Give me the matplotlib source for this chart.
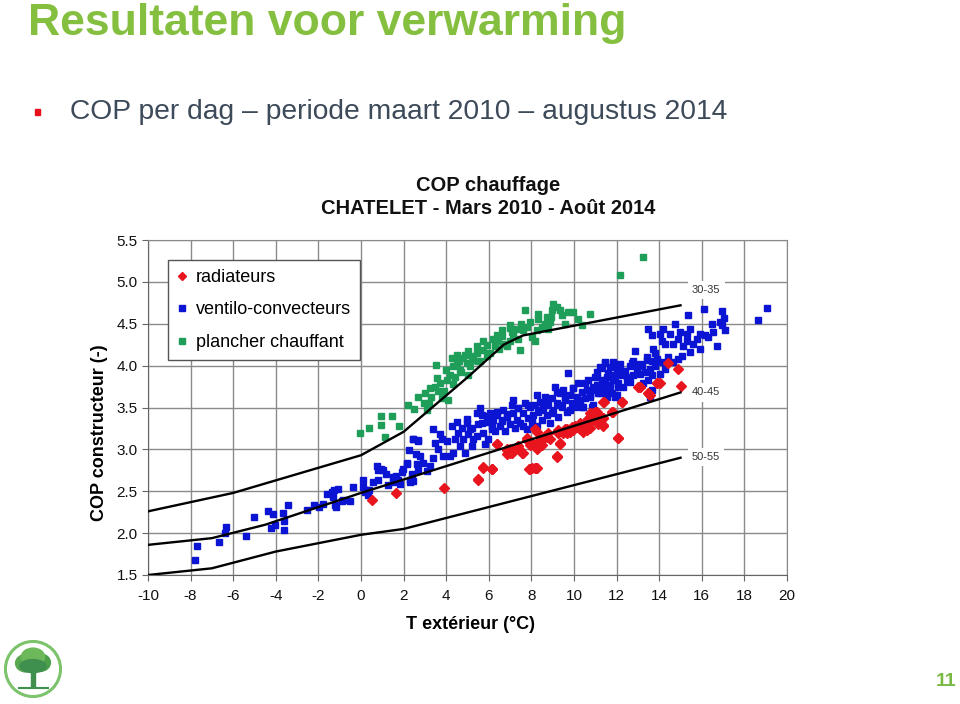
"""COP chauffage CHATELET - recreated slide chart"""

import matplotlib

matplotlib.use("Agg")
from matplotlib import pyplot as plt
from matplotlib.patches import Circle, Ellipse, Rectangle

plt.rcParams["font.family"] = ["Liberation Sans", "DejaVu Sans"]
plt.rcParams["axes.unicode_minus"] = False

# --- data ----------------------------------------------------------------
green_x = [-0.05, 0.37, 0.92, 0.92, 1.47, 1.12, 1.78, 2.22, 2.69, 2.95, 3.08, 3.00,
           3.24, 3.58, 3.52, 3.47, 3.71, 4.02, 4.10, 3.78, 4.17, 4.33, 4.25, 4.49,
           4.64, 4.49, 4.80, 4.96, 5.11, 5.04, 4.88, 5.27, 5.43, 5.43, 5.74, 5.74,
           5.90, 6.05, 6.29, 6.44, 6.60, 6.37, 6.68, 6.84, 6.99, 6.99, 7.15, 7.30,
           7.46, 7.38, 7.62, 7.70, 7.77, 7.93, 8.01, 8.17, 8.24, 8.32, 8.48, 8.63,
           8.71, 8.79, 8.87, 8.95, 9.03, 9.18, 9.34, 9.42, 9.57, 9.73, 9.97, 10.20,
           10.36, 10.75, 12.16, 13.24, 2.50, 3.30, 3.90, 4.40, 4.60, 5.20, 5.60,
           6.20, 6.50, 7.10, 3.20, 3.60, 4.00, 4.30, 4.70, 5.00, 5.50, 5.90, 6.60,
           7.00, 7.50, 8.30, 8.90]
green_y = [3.20, 3.25, 3.40, 3.29, 3.40, 3.15, 3.28, 3.53, 3.63, 3.55, 3.47, 3.67,
           3.73, 3.85, 4.01, 3.75, 3.79, 3.83, 3.59, 3.61, 3.89, 3.99, 4.09, 4.03,
           3.95, 4.13, 4.09, 4.03, 3.99, 3.89, 4.13, 4.07, 4.23, 4.15, 4.19, 4.29,
           4.11, 4.15, 4.23, 4.30, 4.42, 4.36, 4.26, 4.23, 4.30, 4.48, 4.36, 4.44,
           4.19, 4.32, 4.42, 4.66, 4.46, 4.52, 4.34, 4.30, 4.42, 4.56, 4.46, 4.50,
           4.58, 4.44, 4.52, 4.66, 4.74, 4.70, 4.66, 4.60, 4.50, 4.64, 4.64, 4.56,
           4.48, 4.62, 5.08, 5.30, 3.48, 3.62, 3.70, 3.86, 4.05, 4.12, 4.05,
           4.32, 4.20, 4.40, 3.55, 3.70, 3.95, 3.78, 3.92, 4.18, 4.05, 4.25, 4.35,
           4.45, 4.50, 4.62, 4.58]

blue_x = [-7.80, -7.69, -6.65, -6.34, -6.39, -5.40, -5.03, -4.35, -4.15, -4.04, -4.23,
          -3.68, -3.60, -3.62, -3.43, -2.55, -2.21, -1.96, -1.80, -1.61, -1.38, -1.33,
          -1.27, -1.22, -1.07, -1.18, -0.91, -0.83, -0.52, -0.39, 0.08, 0.11, 0.26,
          0.19, 0.39, 0.34, 0.58, 0.73, 0.81, 0.92, 1.05, 1.17, 0.81, 1.28, 1.48,
          1.52, 1.64, 1.75, 1.83, 1.94, 2.17, 2.24, 2.30, 2.39, 2.58, 2.64, 2.69,
          2.66, 2.42,
          1.99, 2.30, 2.46, 2.14, 2.46, 2.69, 2.77, 2.93, 3.08, 3.24, 3.39, 3.39,
          3.47, 3.63, 3.71, 3.79, 3.86, 4.02, 4.18, 4.26, 4.33, 4.41, 4.49, 4.57,
          4.65, 4.73, 4.80, 4.88, 4.96, 5.04, 5.12, 5.19, 5.27, 5.43, 5.51, 5.59,
          5.66, 5.74, 5.82, 5.90, 5.98, 6.06, 6.13, 6.21, 6.29, 6.37, 6.52, 6.60,
          6.68, 6.76, 6.84, 6.99, 7.07, 7.15, 7.23, 7.31, 7.39, 7.46, 7.62, 7.70,
          7.78, 7.86, 7.93, 8.01, 8.09, 8.17, 8.25, 8.32, 8.40, 8.48, 8.56, 8.64,
          8.72, 8.79, 8.87, 8.95, 9.03, 9.11, 9.19, 9.26, 9.34, 9.42, 9.50, 9.58,
          9.65, 9.73, 9.81, 9.89, 9.97, 10.05, 10.12, 10.20, 10.28, 10.36, 10.44,
          10.52, 10.59, 10.67, 10.75, 10.83, 10.91, 11.06, 11.22, 11.30, 11.38,
          11.45, 11.53, 11.61, 11.69, 11.85, 11.92, 12.00, 12.08,
          16.12, 16.96, 17.06, 16.85, 16.93, 17.09, 16.54, 16.70, 16.46, 16.15,
          16.31, 15.91, 15.76, 15.91, 15.60, 15.44, 15.29, 15.37, 15.29, 15.44,
          15.13, 14.98, 14.90, 14.74, 14.66, 14.51, 14.27, 14.11, 14.19, 14.04,
          13.72, 13.65, 13.49, 12.86, 12.78, 13.10, 13.41, 13.65, 13.88, 14.11,
          14.27, 14.04, 13.80, 13.57, 13.33, 13.10, 12.94, 12.63, 12.39, 12.16,
          12.00, 11.85, 11.69, 11.45, 11.22, 11.06, 10.98, 11.30, 11.53, 11.69,
          11.92, 12.08, 12.24, 12.31, 12.47, 12.63, 12.78, 13.25, 13.49, 13.65,
          11.38, 11.14, 10.91, 11.53, 11.77, 15.05, 14.90, 14.66, 14.43, 18.65,
          19.04, 13.57,
          4.96, 5.20, 5.43, 5.67, 5.90, 6.14, 6.37, 6.61, 6.84, 7.15, 7.39, 7.62,
          7.86, 8.01, 8.25, 8.48, 8.72, 8.95, 9.19, 9.34, 9.58, 9.81, 9.97, 10.21,
          10.36, 10.52, 10.75, 10.91, 11.07, 11.22, 11.46, 11.61, 11.77, 11.93,
          12.08, 12.32, 12.47, 12.71, 12.94, 13.18, 13.41, 13.65, 13.80]
blue_y = [1.68, 1.85, 1.89, 2.07, 2.00, 1.97, 2.19, 2.26, 2.23, 2.10, 2.06,
          2.24, 2.14, 2.04, 2.34, 2.28, 2.33, 2.31, 2.35, 2.47, 2.49, 2.43,
          2.51, 2.33, 2.53, 2.31, 2.38, 2.39, 2.38, 2.55, 2.63, 2.55, 2.51,
          2.49, 2.51, 2.45, 2.61, 2.80, 2.75, 2.77, 2.75, 2.71, 2.63, 2.57, 2.67,
          2.61, 2.68, 2.63, 2.59, 2.73, 2.83, 2.99, 2.61, 2.71, 2.94, 2.83, 3.11,
          2.75, 3.12,
          2.76, 2.64, 2.62, 2.84, 3.12, 3.10, 2.92, 2.84, 2.74, 2.80, 3.24, 2.90,
          3.08, 3.00, 3.18, 3.12, 2.92, 3.10, 2.92, 3.28, 2.96, 3.12, 3.33, 3.20,
          3.04, 3.26, 3.12, 2.96, 3.31, 3.18, 3.24, 3.04, 3.12, 3.16, 3.30, 3.49,
          3.41, 3.20, 3.06, 3.33, 3.12, 3.43, 3.28, 3.35, 3.22, 3.41, 3.28, 3.35,
          3.47, 3.22, 3.39, 3.30, 3.53, 3.43, 3.26, 3.35, 3.49, 3.31, 3.43, 3.55,
          3.24, 3.37, 3.51, 3.31, 3.41, 3.53, 3.28, 3.45, 3.57, 3.35, 3.49, 3.63,
          3.41, 3.53, 3.31, 3.61, 3.47, 3.75, 3.55, 3.39, 3.67, 3.51, 3.71, 3.59,
          3.45, 3.91, 3.65, 3.55, 3.73, 3.51, 3.63, 3.79, 3.57, 3.69, 3.51,
          3.61, 3.71, 3.83, 3.63, 3.51, 3.75, 3.87, 3.67, 3.97, 3.79,
          4.03, 3.69, 3.91, 3.77, 3.83, 4.01, 3.65, 3.75,
          4.68, 4.65, 4.57, 4.52, 4.48, 4.42, 4.40, 4.24, 4.50, 4.36,
          4.34, 4.38, 4.32, 4.20, 4.26, 4.44, 4.38, 4.60, 4.30, 4.16,
          4.24, 4.40, 4.32, 4.50, 4.26, 4.38, 4.26, 4.30, 4.44, 4.38,
          4.20, 4.36, 4.44, 4.18, 4.06, 4.02, 4.10, 4.06, 4.08, 4.04,
          3.96, 3.90, 4.00, 3.96, 3.92, 3.90, 3.98, 4.00, 3.94, 4.02,
          3.92, 4.04, 3.98, 4.04, 3.98, 3.92, 3.87, 3.83, 3.87, 3.75,
          3.85, 3.79, 3.89, 3.75, 3.87, 3.81, 3.89, 3.79, 3.83, 3.71,
          3.71, 3.67, 3.71, 3.63, 3.67, 4.12, 4.08, 4.04, 4.10, 4.55,
          4.69, 3.63,
          3.36, 3.26, 3.43, 3.32, 3.40, 3.24, 3.45, 3.34, 3.42, 3.59, 3.49, 3.28,
          3.53, 3.38, 3.65, 3.47, 3.57, 3.43, 3.69, 3.53, 3.63, 3.47, 3.73, 3.59,
          3.51, 3.79, 3.65, 3.53, 3.77, 3.69, 3.83, 3.73, 3.89, 3.63,
          3.99, 3.93, 3.83, 4.03, 3.91, 3.99, 4.07, 3.89, 4.15]

red_x = [0.53, 1.64, 3.90, 5.48, 5.74, 6.14, 6.37, 6.87, 7.00, 7.07, 7.31, 7.59,
         7.78, 7.90, 8.22, 7.93, 8.09, 8.25, 8.40, 8.64, 8.80, 8.25, 8.48, 9.19,
         9.34, 9.26, 9.50, 9.66, 9.81, 9.97, 10.13, 10.28, 10.44, 10.60, 10.67,
         10.75, 10.83, 10.91, 11.06, 11.35, 11.38, 11.38, 11.77, 12.08, 12.24,
         13.02, 13.54, 13.88, 14.04, 15.01, 14.90, 14.43, 13.10, 13.57, 11.85,
         11.30, 5.51, 6.13, 6.84, 7.39, 8.01, 8.17, 8.72, 9.65, 9.89, 10.59,
         10.75, 11.41,
         5.75, 6.14, 6.37, 6.84, 7.00, 7.39, 7.55, 7.78, 8.01, 8.17, 8.41, 8.64,
         8.88, 9.19, 9.34, 9.27, 9.58, 9.81, 10.05, 10.28, 10.52, 10.67, 10.75,
         10.99, 11.14, 11.38, 11.38, 11.77, 12.08, 12.24, 13.10, 13.49, 13.88,
         8.25, 7.94]
red_y = [2.39, 2.48, 2.54, 2.64, 2.78, 2.76, 3.07, 2.95, 3.01, 2.96, 3.03, 2.96,
         3.11, 2.76, 2.78, 3.05, 3.07, 3.21, 3.11, 3.15, 3.19, 3.01, 3.05, 2.91,
         3.07, 3.23, 3.19, 3.20, 3.21, 3.23, 3.27, 3.31, 3.21, 3.23, 3.31,
         3.39, 3.35, 3.43, 3.45, 3.37, 3.29, 3.57, 3.45, 3.13, 3.57,
         3.75, 3.66, 3.79, 3.79, 3.76, 3.96, 4.03, 3.75, 3.65, 3.45,
         3.38, 2.65, 2.77, 2.99, 3.04, 2.78, 2.78, 3.15, 3.24, 3.27, 3.35,
         3.25, 3.57,
         2.79, 2.77, 3.06, 3.00, 2.96, 3.04, 2.96, 3.14, 3.08, 3.24, 3.06, 3.16,
         3.12, 2.92, 3.08, 3.20, 3.24, 3.22, 3.28, 3.24, 3.28, 3.36, 3.43,
         3.45, 3.30, 3.38, 3.28, 3.45, 3.14, 3.57, 3.75, 3.67, 3.79,
         2.78, 2.76]

# manufacturer reference curves (water temperature ranges)
ref_labels = ["30-35", "40-45", "50-55"]
ref_x = [
    [-10, -6, 0, 2, 5, 6.7, 7.6, 15],
    [-10, -7, -4.5, 0, 15],
    [-10, -7, -4, 0, 2, 15],
]
ref_y = [
    [2.26, 2.48, 2.93, 3.21, 3.86, 4.25, 4.36, 4.72],
    [1.86, 1.94, 2.10, 2.48, 3.68],
    [1.50, 1.58, 1.78, 1.98, 2.05, 2.90],
]
ref_label_y = [4.90, 3.68, 2.91]

x_ticks = list(range(-10, 21, 2))
y_ticks = [1.5, 2.0, 2.5, 3.0, 3.5, 4.0, 4.5, 5.0, 5.5]

GREEN_TITLE = "#85bf3f"


def draw_logo(fig):
    lax = fig.add_axes([4 / 960, 6 / 704, 58 / 960, 58 / 704])
    lax.set_xlim(-1, 1)
    lax.set_ylim(-1, 1)
    lax.set_aspect("equal")
    lax.axis("off")
    lax.add_patch(Circle((0, 0), 0.95, facecolor="white", edgecolor="#7cc36b", linewidth=2.2))
    lax.add_patch(Rectangle((-0.08, -0.62), 0.16, 0.55, color="#3f8f4f"))
    for cx, cy, w, h, c in [(-0.25, 0.2, 0.7, 0.6, "#5aa84f"), (0.25, 0.22, 0.7, 0.6, "#4c9e48"),
                            (0.0, 0.42, 0.8, 0.6, "#6db85a"), (0.0, 0.1, 0.9, 0.45, "#3f8f4f")]:
        lax.add_patch(Ellipse((cx, cy), w, h, color=c))
    lax.plot([-0.5, 0.5], [-0.65, -0.65], color="#3f8f4f", linewidth=1.5)


def main():
    fig = plt.figure(figsize=(9.6, 7.04), dpi=100)

    # slide text
    fig.text(28 / 960, 1 - 35 / 704, "Resultaten voor verwarming", fontsize=32,
             fontweight="bold", color=GREEN_TITLE, va="baseline", ha="left")
    fig.patches.append(Rectangle((35 / 960, 1 - 115 / 704), 5 / 960, 6 / 704,
                                 color="#e8101a", transform=fig.transFigure, figure=fig))
    fig.text(70 / 960, 1 - 119 / 704, "COP per dag \u2013 periode maart 2010 \u2013 augustus 2014",
             fontsize=20.3, color="#3d4a59", va="baseline", ha="left")
    fig.text(956 / 960, 1 - 686 / 704, "11", fontsize=14, fontweight="bold",
             color="#78b843", ha="right", va="baseline")

    # chart titles
    fig.text(488 / 960, 1 - 191 / 704, "COP chauffage", fontsize=14.5, fontweight="bold",
             ha="center", va="baseline", color="#111111")
    fig.text(488 / 960, 1 - 214 / 704, "CHATELET - Mars 2010 - Ao\u00fbt 2014", fontsize=14.5,
             fontweight="bold", ha="center", va="baseline", color="#111111")

    ax = fig.add_axes([148 / 960, 129 / 704, 639 / 960, 335 / 704])

    ax.plot(green_x, green_y, linestyle="none", marker="s", markersize=4.2,
            color="#1f9e5a", label="plancher chauffant", zorder=3)
    ax.plot(blue_x, blue_y, linestyle="none", marker="s", markersize=4.2,
            color="#0a14d2", label="ventilo-convecteurs", zorder=3)
    ax.plot(red_x, red_y, linestyle="none", marker="D", markersize=4.6,
            color="#e8141e", label="radiateurs", zorder=4)

    for xs, ys, lab, ly in zip(ref_x, ref_y, ref_labels, ref_label_y):
        ax.plot(xs, ys, color="black", linewidth=1.7, zorder=5)
        ax.text(16.2, ly, lab, fontsize=8, color="#333333", ha="center", va="center",
                bbox=dict(facecolor="white", edgecolor="none", pad=3), zorder=6)

    ax.set_xlim(-10, 20)
    ax.set_ylim(1.5, 5.5)
    ax.set_xticks(x_ticks)
    ax.set_yticks(y_ticks)
    ax.set_yticklabels([f"{v:.1f}" for v in y_ticks])
    ax.tick_params(labelsize=11, length=4, color="#666666", labelcolor="#111111")
    ax.tick_params(axis="x", pad=6)
    ax.grid(True, color="#8a8a8a", linewidth=1.0)
    ax.set_axisbelow(True)
    for side in ["top", "right"]:
        ax.spines[side].set_color("#8a8a8a")
    for side in ["left", "bottom"]:
        ax.spines[side].set_color("#666666")

    handles, labels = ax.get_legend_handles_labels()
    order = [2, 1, 0]
    leg = ax.legend([handles[i] for i in order], [labels[i] for i in order],
                    loc="upper left", bbox_to_anchor=(0.031, 0.94), borderaxespad=0,
                    fontsize=13, frameon=True, fancybox=False, edgecolor="#555555",
                    framealpha=1, handlelength=0.6, handletextpad=0.45, labelspacing=0.85,
                    borderpad=0.5, markerscale=0.9)
    leg.get_frame().set_linewidth(1.0)
    leg.set_zorder(7)

    fig.text(470 / 960, 1 - 629 / 704, "T ext\u00e9rieur (\u00b0C)", fontsize=13,
             fontweight="bold", ha="center", va="baseline")
    fig.text(100 / 960, 1 - 433 / 704, "COP constructeur (-)", fontsize=13,
             fontweight="bold", ha="center", va="center", rotation=90)

    draw_logo(fig)
    fig.savefig("out.png", dpi=100)


if __name__ == "__main__":
    main()
